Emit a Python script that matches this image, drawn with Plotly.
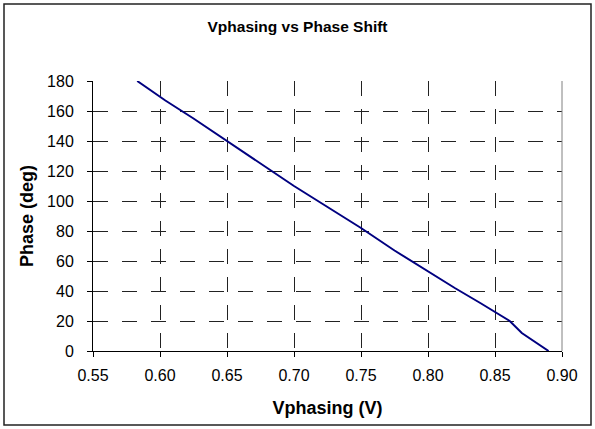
import plotly.graph_objects as go

# Data
vphasing = [0.583, 0.604, 0.625, 0.650, 0.675, 0.700, 0.725, 0.750, 0.775, 0.800, 0.820, 0.839, 0.861, 0.870, 0.890]
phase = [180, 167, 155, 140, 125, 110, 96, 82, 67, 53, 42, 32, 20, 12, 0]

x_ticks = [0.55, 0.60, 0.65, 0.70, 0.75, 0.80, 0.85, 0.90]
x_tick_labels = ["0.55", "0.60", "0.65", "0.70", "0.75", "0.80", "0.85", "0.90"]
y_ticks = [0, 20, 40, 60, 80, 100, 120, 140, 160, 180]

FONT = "Liberation Sans, Arial, sans-serif"

fig = go.Figure()
fig.add_trace(go.Scatter(
    x=vphasing, y=phase, mode="lines",
    line=dict(color="#000080", width=2),
    showlegend=False, hoverinfo="x+y",
))

W, H = 595, 429
L, R, T, B = 93, 33, 81, 78
pw, ph = W - L - R, H - T - B

def px_to_paper_x(px):
    return (px - L) / pw

def px_to_paper_y(py):
    return (H - B - py) / ph

fig.update_layout(
    width=W, height=H,
    margin=dict(l=L, r=R, t=T, b=B, pad=0),
    paper_bgcolor="white", plot_bgcolor="white",
    font=dict(family=FONT, color="black", size=16),
    title=dict(text="<b>Vphasing vs Phase Shift</b>", x=0.5, xanchor="center",
               y=1 - 27 / H, yanchor="middle",
               font=dict(family=FONT, size=15.5, color="black")),
    xaxis=dict(
        range=[0.55, 0.90], tickvals=x_ticks, ticktext=x_tick_labels,
        showline=True, linecolor="black", linewidth=1, mirror=False,
        ticks="outside", ticklen=5, tickcolor="black", tickwidth=1,
        showgrid=True, gridcolor="#222222", gridwidth=1, griddash="15px,13px",
        zeroline=False, tickfont=dict(size=16), ticklabelstandoff=5,
        title=dict(text="<b>Vphasing (V)</b>", font=dict(size=18), standoff=18),
    ),
    yaxis=dict(
        range=[0, 180], tickvals=y_ticks,
        showline=True, linecolor="black", linewidth=1, mirror=False,
        ticks="outside", ticklen=5, tickcolor="black", tickwidth=1,
        showgrid=True, gridcolor="#222222", gridwidth=1, griddash="15px,14px",
        zeroline=False, tickfont=dict(size=16), ticklabelstandoff=10,
        title=dict(text="<b>Phase (deg)</b>", font=dict(size=18), standoff=8),
    ),
    shapes=[
        # right border of plot area (solid gray)
        dict(type="line", xref="paper", yref="paper", x0=1, x1=1, y0=0, y1=1,
             line=dict(color="#808080", width=1)),
        # outer chart frame
        dict(type="rect", xref="paper", yref="paper",
             x0=px_to_paper_x(4), x1=px_to_paper_x(591),
             y0=px_to_paper_y(425), y1=px_to_paper_y(4),
             line=dict(color="#222222", width=1.5), layer="above"),
    ],
)

fig.write_html(
    "out.html",
    config={"displayModeBar": False},
    post_script="document.body.style.margin='0';document.body.style.overflow='hidden';",
)
